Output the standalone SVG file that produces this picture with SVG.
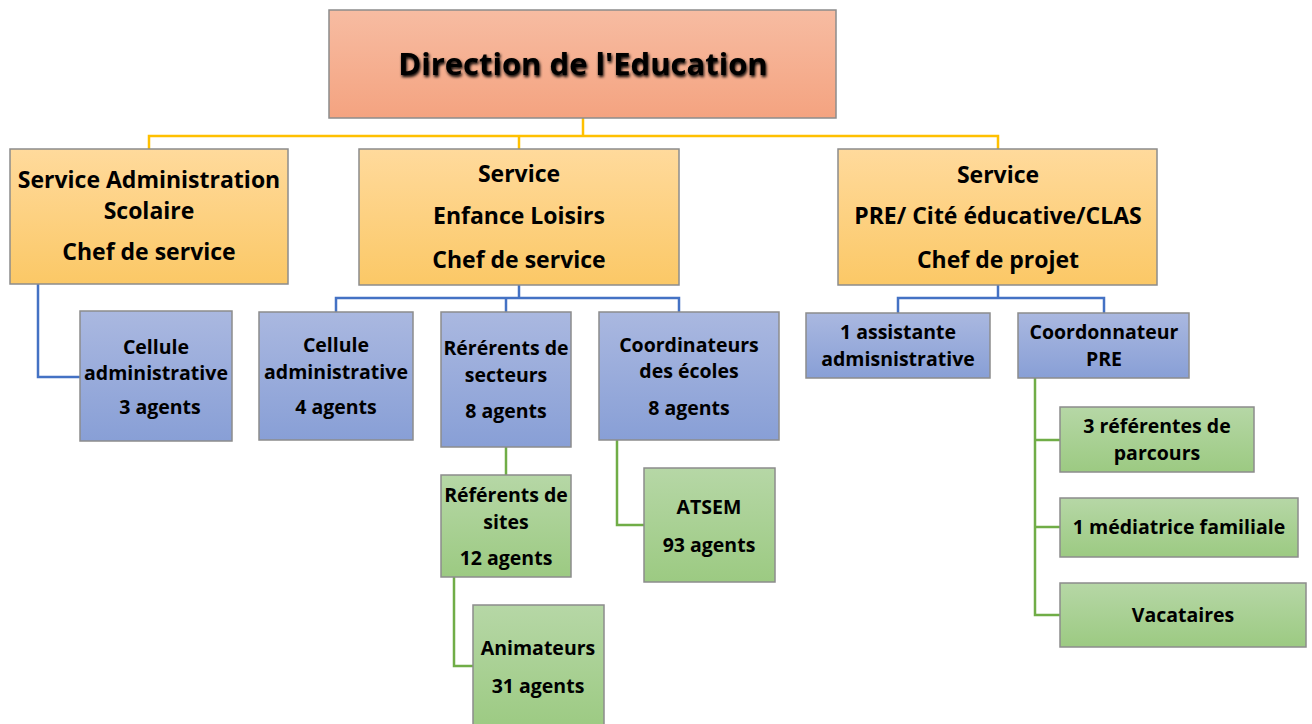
<svg xmlns="http://www.w3.org/2000/svg" width="1312" height="724" viewBox="0 0 1312 724">
<defs>
<linearGradient id="gTop" x1="0" y1="0" x2="0" y2="1"><stop offset="0" stop-color="#F7BCA2"/><stop offset="1" stop-color="#F4A380"/></linearGradient>
<linearGradient id="gSvc" x1="0" y1="0" x2="0" y2="1"><stop offset="0" stop-color="#FFDA9C"/><stop offset="1" stop-color="#FBC866"/></linearGradient>
<linearGradient id="gBlue" x1="0" y1="0" x2="0" y2="1"><stop offset="0" stop-color="#AAB8E0"/><stop offset="1" stop-color="#889FD6"/></linearGradient>
<linearGradient id="gGreen" x1="0" y1="0" x2="0" y2="1"><stop offset="0" stop-color="#B6D7A6"/><stop offset="1" stop-color="#9CCA82"/></linearGradient>
<filter id="sh" x="-10%" y="-30%" width="120%" height="160%"><feGaussianBlur in="SourceAlpha" stdDeviation="1.5" result="b"/><feOffset in="b" dx="1" dy="1.5" result="o"/><feMerge><feMergeNode in="o"/><feMergeNode in="SourceGraphic"/></feMerge></filter>
</defs>
<style>
text{font-family:"Open Sans","Liberation Sans",sans-serif;font-weight:700;fill:#000;text-anchor:middle}
.box{stroke:#8C8C8C;stroke-width:1.5}
.top{fill:url(#gTop)}
.svc{fill:url(#gSvc)}
.blue{fill:url(#gBlue)}
.green{fill:url(#gGreen)}
.t1{font-size:31px}
.t2{font-size:23px}
.t3{font-size:19.5px}
.c{fill:none;stroke-width:2.5}
.co{stroke:#FFC000}
.cb{stroke:#4472C4}
.cg{stroke:#70AD47}
</style>
<g id="connectors">
<polyline class="c co" points="583,118 583,136"/>
<polyline class="c co" points="149,149 149,136 998,136 998,149"/>
<polyline class="c co" points="519,136 519,149"/>
<polyline class="c cb" points="38,284 38,377 80,377"/>
<polyline class="c cb" points="519,285 519,298"/>
<polyline class="c cb" points="336,312 336,298 679,298 679,312"/>
<polyline class="c cb" points="506,298 506,312"/>
<polyline class="c cb" points="998,285 998,298"/>
<polyline class="c cb" points="898,313 898,298 1104,298 1104,313"/>
<polyline class="c cg" points="506,447 506,475"/>
<polyline class="c cg" points="454,577 454,666 473,666"/>
<polyline class="c cg" points="617,440 617,525 644,525"/>
<polyline class="c cg" points="1035,378 1035,615 1060,615"/>
<polyline class="c cg" points="1035,440 1060,440"/>
<polyline class="c cg" points="1035,527 1060,527"/>
</g>
<g id="n-direction"><rect class="box top" x="329" y="10" width="507" height="108"/><text class="t1" x="583" y="75" filter="url(#sh)">Direction de l'Education</text></g>
<g id="n-sas"><rect class="box svc" x="10" y="149" width="278" height="135"/><text class="t2" x="149" y="188">Service Administration</text><text class="t2" x="149" y="219">Scolaire</text><text class="t2" x="149" y="260">Chef de service</text></g>
<g id="n-sel"><rect class="box svc" x="359" y="149" width="320" height="136"/><text class="t2" x="519" y="182">Service</text><text class="t2" x="519" y="224">Enfance Loisirs</text><text class="t2" x="519" y="268">Chef de service</text></g>
<g id="n-pre"><rect class="box svc" x="838" y="149" width="319" height="136"/><text class="t2" x="998" y="183">Service</text><text class="t2" x="998" y="224">PRE/ Cité éducative/CLAS</text><text class="t2" x="998" y="268">Chef de projet</text></g>
<g id="n-cell3"><rect class="box blue" x="80" y="311" width="152" height="130"/><text class="t3" x="156" y="354">Cellule</text><text class="t3" x="156" y="380">administrative</text><text class="t3" x="160" y="414">3 agents</text></g>
<g id="n-cell4"><rect class="box blue" x="259" y="312" width="154" height="128"/><text class="t3" x="336" y="352">Cellule</text><text class="t3" x="336" y="379">administrative</text><text class="t3" x="336" y="414">4 agents</text></g>
<g id="n-refsect"><rect class="box blue" x="441" y="312" width="130" height="135"/><text class="t3" x="506" y="355">Rérérents de</text><text class="t3" x="506" y="382">secteurs</text><text class="t3" x="506" y="418">8 agents</text></g>
<g id="n-coord"><rect class="box blue" x="599" y="312" width="180" height="128"/><text class="t3" x="689" y="352">Coordinateurs</text><text class="t3" x="689" y="378">des écoles</text><text class="t3" x="689" y="415">8 agents</text></g>
<g id="n-refsites"><rect class="box green" x="441" y="475" width="130" height="102"/><text class="t3" x="506" y="502">Référents de</text><text class="t3" x="506" y="529">sites</text><text class="t3" x="506" y="565">12 agents</text></g>
<g id="n-anim"><rect class="box green" x="473" y="605" width="131" height="125"/><text class="t3" x="538" y="655">Animateurs</text><text class="t3" x="538" y="693">31 agents</text></g>
<g id="n-atsem"><rect class="box green" x="644" y="468" width="131" height="114"/><text class="t3" x="709" y="514">ATSEM</text><text class="t3" x="709" y="552">93 agents</text></g>
<g id="n-assist"><rect class="box blue" x="806" y="313" width="184" height="65"/><text class="t3" x="898" y="339">1 assistante</text><text class="t3" x="898" y="366">admisnistrative</text></g>
<g id="n-coordpre"><rect class="box blue" x="1018" y="313" width="171" height="65"/><text class="t3" x="1104" y="339">Coordonnateur</text><text class="t3" x="1104" y="366">PRE</text></g>
<g id="n-refparc"><rect class="box green" x="1060" y="407" width="194" height="65"/><text class="t3" x="1157" y="433">3 référentes de</text><text class="t3" x="1157" y="460">parcours</text></g>
<g id="n-media"><rect class="box green" x="1060" y="498" width="238" height="59"/><text class="t3" x="1179" y="534">1 médiatrice familiale</text></g>
<g id="n-vac"><rect class="box green" x="1060" y="583" width="246" height="64"/><text class="t3" x="1183" y="622">Vacataires</text></g>
</svg>
